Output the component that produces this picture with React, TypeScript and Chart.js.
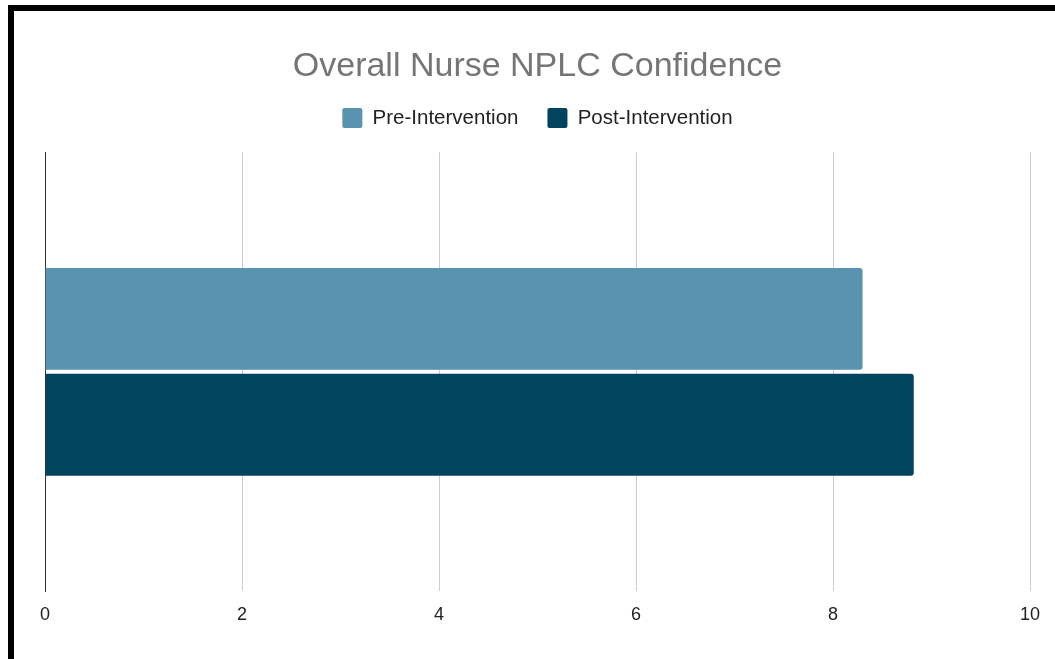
import React, { useEffect, useRef } from "react";
import { Chart, registerables } from "chart.js";

Chart.register(...registerables);

const categories = ["Overall"];
const preValues = [8.3];
const postValues = [8.82];
const seriesLabels = ["Pre-Intervention", "Post-Intervention"];
const seriesColors = ["#5a93b0", "#00445f"];
const xTicks = [0, 2, 4, 6, 8, 10];

const FONT = "'Liberation Sans', Arial, sans-serif";

const legendMargin = {
  id: "legendMargin",
  beforeInit(chart: any) {
    const legend = chart.legend;
    if (!legend) return;
    const orig = legend.fit;
    legend.fit = function () {
      orig.call(this);
      this.height += 14;
    };
  },
};

export default function App() {
  const ref = useRef<HTMLCanvasElement | null>(null);
  useEffect(() => {
    if (!ref.current) return;
    const chart = new Chart(ref.current, {
      type: "bar",
      data: {
        labels: categories,
        datasets: [
          {
            label: seriesLabels[0],
            data: preValues,
            backgroundColor: seriesColors[0],
            borderRadius: 3,
            borderSkipped: "start",
            categoryPercentage: 0.482,
            barPercentage: 0.962,
          },
          {
            label: seriesLabels[1],
            data: postValues,
            backgroundColor: seriesColors[1],
            borderRadius: 3,
            borderSkipped: "start",
            categoryPercentage: 0.482,
            barPercentage: 0.962,
          },
        ],
      },
      plugins: [legendMargin],
      options: {
        indexAxis: "y",
        animation: false,
        responsive: false,
        maintainAspectRatio: false,
        layout: { padding: { left: 31, right: 25, top: 0, bottom: 20 } },
        plugins: {
          title: {
            display: true,
            text: "Overall Nurse NPLC Confidence",
            color: "#757575",
            font: { family: FONT, size: 34, weight: "normal" },
            padding: { top: 35, bottom: -8 },
          },
          legend: {
            display: true,
            position: "top",
            labels: {
              color: "#222222",
              font: { family: FONT, size: 20.5 },
              boxWidth: 20,
              boxHeight: 20,
              useBorderRadius: true,
              borderRadius: 2,
              padding: 29,
            },
          },
          tooltip: { enabled: false },
        },
        scales: {
          x: {
            min: 0,
            max: 10,
            afterBuildTicks: (axis: any) => {
              axis.ticks = xTicks.map((v) => ({ value: v }));
            },
            ticks: {
              color: "#222222",
              font: { family: FONT, size: 18 },
              padding: 13,
              maxRotation: 0,
            },
            grid: {
              color: (ctx: any) => (ctx.tick && ctx.tick.value === 0 ? "#333333" : "#cccccc"),
              lineWidth: 1,
              drawTicks: false,
            },
            border: { display: false },
          },
          y: {
            ticks: { display: false },
            grid: { display: false, drawTicks: false },
            border: { display: true, color: "#333333", width: 1 },
          },
        },
      },
    });
    return () => chart.destroy();
  }, []);
  return (
    <div
      style={{
        position: "absolute",
        left: 8,
        top: 5,
        width: 1047,
        height: 654,
        borderTop: "6px solid #000",
        borderLeft: "6px solid #000",
        boxSizing: "border-box",
        background: "#fff",
      }}
    >
      <canvas ref={ref} width={1041} height={648} style={{ display: "block" }} />
    </div>
  );
}
